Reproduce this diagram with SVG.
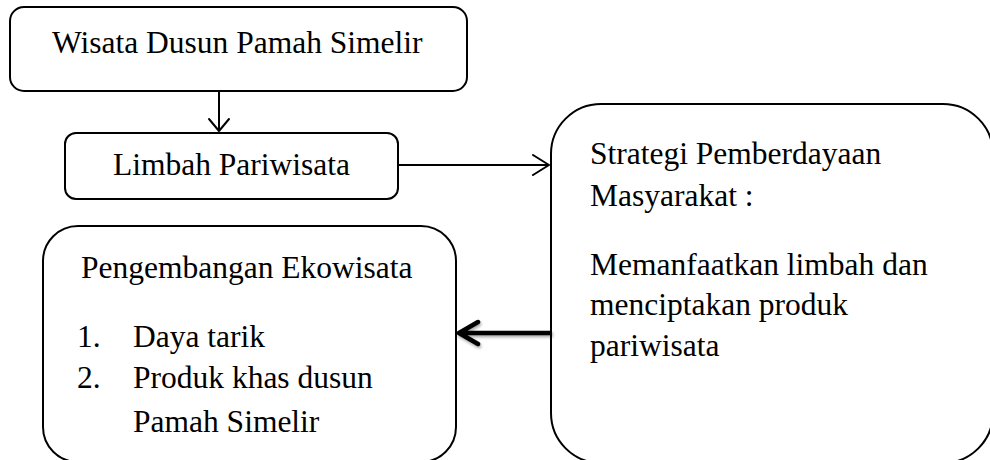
<svg xmlns="http://www.w3.org/2000/svg" width="990" height="460" viewBox="0 0 990 460">
<style>
.box{fill:#fff;stroke:#000;stroke-width:2}
.t{font-family:"Liberation Serif","Times New Roman",serif;font-size:31.5px;fill:#000}
.c{fill:none;stroke:#000;stroke-width:2;stroke-linecap:round;stroke-linejoin:round}
.thick{fill:none;stroke:#000;stroke-width:4.5;stroke-linecap:round;stroke-linejoin:round}
</style>
<defs>
<filter id="sh" x="-20%" y="-50%" width="140%" height="200%">
<feDropShadow dx="1" dy="2" stdDeviation="1.5" flood-color="#000" flood-opacity="0.35"/>
</filter>
</defs>
<rect width="990" height="460" fill="#fff"/>
<g id="node-wisata">
<rect class="box" x="10" y="7" width="457" height="84" rx="14"/>
<text class="t" x="52" y="53">Wisata Dusun Pamah Simelir</text>
</g>
<g id="node-limbah">
<rect class="box" x="65" y="133" width="333" height="66" rx="11"/>
<text class="t" x="113" y="175">Limbah Pariwisata</text>
</g>
<g id="node-strategi">
<rect class="box" x="551" y="104" width="442" height="359" rx="50"/>
<text class="t" x="590" y="164">Strategi Pemberdayaan</text>
<text class="t" x="590" y="206">Masyarakat :</text>
<text class="t" x="590" y="275">Memanfaatkan limbah dan</text>
<text class="t" x="590" y="315">menciptakan produk</text>
<text class="t" x="590" y="356">pariwisata</text>
</g>
<g id="node-pengembangan">
<rect class="box" x="43" y="226" width="413" height="236" rx="35"/>
<text class="t" x="81" y="278">Pengembangan Ekowisata</text>
<text class="t" x="77" y="347">1.</text>
<text class="t" x="133" y="347">Daya tarik</text>
<text class="t" x="77" y="388">2.</text>
<text class="t" x="133" y="388">Produk khas dusun</text>
<text class="t" x="133" y="432">Pamah Simelir</text>
</g>
<g id="connectors">
<path class="c" d="M219 91 V131 M209 119 L219 131 L229 119"/>
<path class="c" d="M398 165 H549 M533 155 L549 165 L533 175"/>
<g filter="url(#sh)">
<path class="thick" d="M550 333 H460 M478 322 L459 333 L478 344"/>
</g>
</g>
</svg>
